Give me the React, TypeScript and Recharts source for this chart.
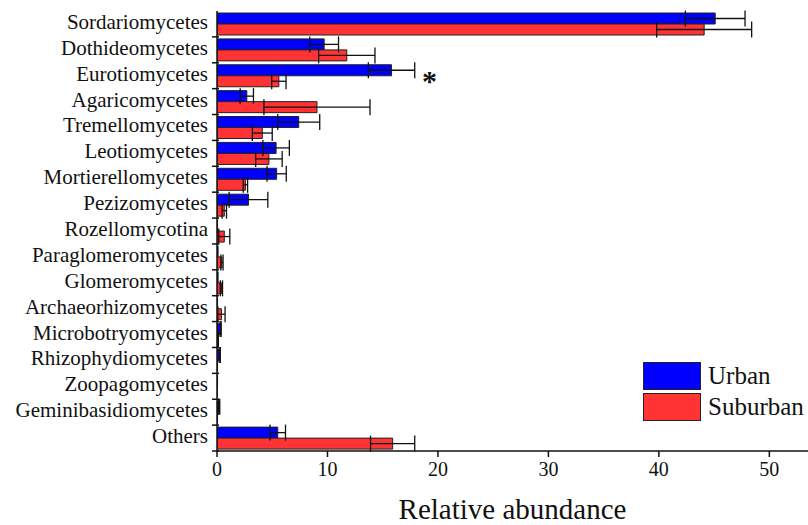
import { BarChart, Bar, XAxis, YAxis, ErrorBar, LabelList } from "recharts";

const categories = [
  "Sordariomycetes",
  "Dothideomycetes",
  "Eurotiomycetes",
  "Agaricomycetes",
  "Tremellomycetes",
  "Leotiomycetes",
  "Mortierellomycetes",
  "Pezizomycetes",
  "Rozellomycotina",
  "Paraglomeromycetes",
  "Glomeromycetes",
  "Archaeorhizomycetes",
  "Microbotryomycetes",
  "Rhizophydiomycetes",
  "Zoopagomycetes",
  "Geminibasidiomycetes",
  "Others",
];

const urbanMean = [45.1, 9.7, 15.8, 2.7, 7.4, 5.35, 5.4, 2.85, 0.05, 0.1, 0.1, 0.05, 0.33, 0.25, 0.05, 0.2, 5.5];
const urbanErr = [2.7, 1.3, 2.1, 0.6, 1.9, 1.2, 0.87, 1.75, 0, 0, 0, 0, 0.05, 0.05, 0, 0.05, 0.7];
const suburbanMean = [44.1, 11.75, 5.6, 9.05, 4.1, 4.7, 2.57, 0.66, 0.66, 0.45, 0.4, 0.4, 0.1, 0.05, 0.02, 0.05, 15.9];
const suburbanErr = [4.3, 2.55, 0.65, 4.8, 0.9, 1.2, 0.2, 0.2, 0.5, 0.1, 0.1, 0.33, 0.02, 0, 0, 0, 2.0];
const significance = ["", "", "*", "", "", "", "", "", "", "", "", "", "", "", "", "", ""];

const seriesNames = ["Urban", "Suburban"];
const seriesColors = ["#0000ff", "#ff3333"];

const xTicks = [0, 10, 20, 30, 40, 50];

const data = categories.map((name, i) => ({
  name,
  urban: urbanMean[i],
  urbanErr: urbanErr[i],
  suburban: suburbanMean[i],
  suburbanErr: suburbanErr[i],
  sig: significance[i],
}));

const FONT = "'Liberation Serif', 'Times New Roman', serif";

// category label plus a small tick on the boundary below it
const CategoryTick = (props: any) => {
  const { x, y, payload } = props;
  const half = payload.offset ?? 13;
  return (
    <g>
      <text x={x - 1} y={y - 2} textAnchor="end" dominantBaseline="central" fontFamily={FONT} fontSize={21} fill="#111">
        {payload.value}
      </text>
      <line x1={x + 3} x2={x + 10} y1={y + half} y2={y + half} stroke="#111" strokeWidth={1.5} />
    </g>
  );
};

const StarLabel = (props: any) => {
  const { x, y, width, height, value } = props;
  if (!value) return null;
  return (
    <text x={x + width + 38} y={y + height / 2 + 21} textAnchor="middle" fontFamily={FONT} fontSize={30} fontWeight="bold" fill="#111">
      {value}
    </text>
  );
};

export default function App() {
  return (
    <div style={{ position: "absolute", left: 0, top: 0, width: 808, height: 525, background: "#fff" }}>
      <BarChart
        width={808}
        height={525}
        data={data}
        layout="vertical"
        margin={{ top: 11, right: 0, left: 0, bottom: 0 }}
        barGap={0}
        barSize={11}
      >
        <XAxis
          type="number"
          domain={[0, 53.5]}
          ticks={xTicks}
          allowDataOverflow
          tickSize={6}
          tickMargin={5}
          stroke="#111"
          strokeWidth={1.5}
          tick={{ fontFamily: FONT, fontSize: 20, fill: "#111" }}
          label={{ value: "Relative abundance", position: "insideBottom", offset: 6, fontFamily: FONT, fontSize: 29, fill: "#111" }}
          height={74}
        />
        <XAxis
          xAxisId="top"
          orientation="top"
          type="number"
          domain={[0, 53.5]}
          ticks={xTicks}
          tick={false}
          tickLine={false}
          stroke="#666"
          strokeWidth={2}
          height={0}
        />
        <YAxis
          type="category"
          dataKey="name"
          width={217}
          tickLine={false}
          stroke="#111"
          strokeWidth={1.5}
          tick={<CategoryTick />}
          interval={0}
        />
        <Bar dataKey="urban" name={seriesNames[0]} fill={seriesColors[0]} stroke="#222" strokeWidth={1} isAnimationActive={false}>
          <ErrorBar dataKey="urbanErr" direction="x" width={8} stroke="#111" strokeWidth={1.3} />
          <LabelList dataKey="sig" content={<StarLabel />} />
        </Bar>
        <Bar dataKey="suburban" name={seriesNames[1]} fill={seriesColors[1]} stroke="#222" strokeWidth={1} isAnimationActive={false}>
          <ErrorBar dataKey="suburbanErr" direction="x" width={8} stroke="#111" strokeWidth={1.3} />
        </Bar>
      </BarChart>
      <div style={{ position: "absolute", left: 643, top: 360, fontFamily: FONT, fontSize: 25, color: "#111" }}>
        {seriesNames.map((label, i) => (
          <div key={label} style={{ display: "flex", alignItems: "center", height: 31 }}>
            <div style={{ width: 56, height: 26, background: seriesColors[i], border: "1.5px solid #222", marginRight: 7 }} />
            <span>{label}</span>
          </div>
        ))}
      </div>
    </div>
  );
}
